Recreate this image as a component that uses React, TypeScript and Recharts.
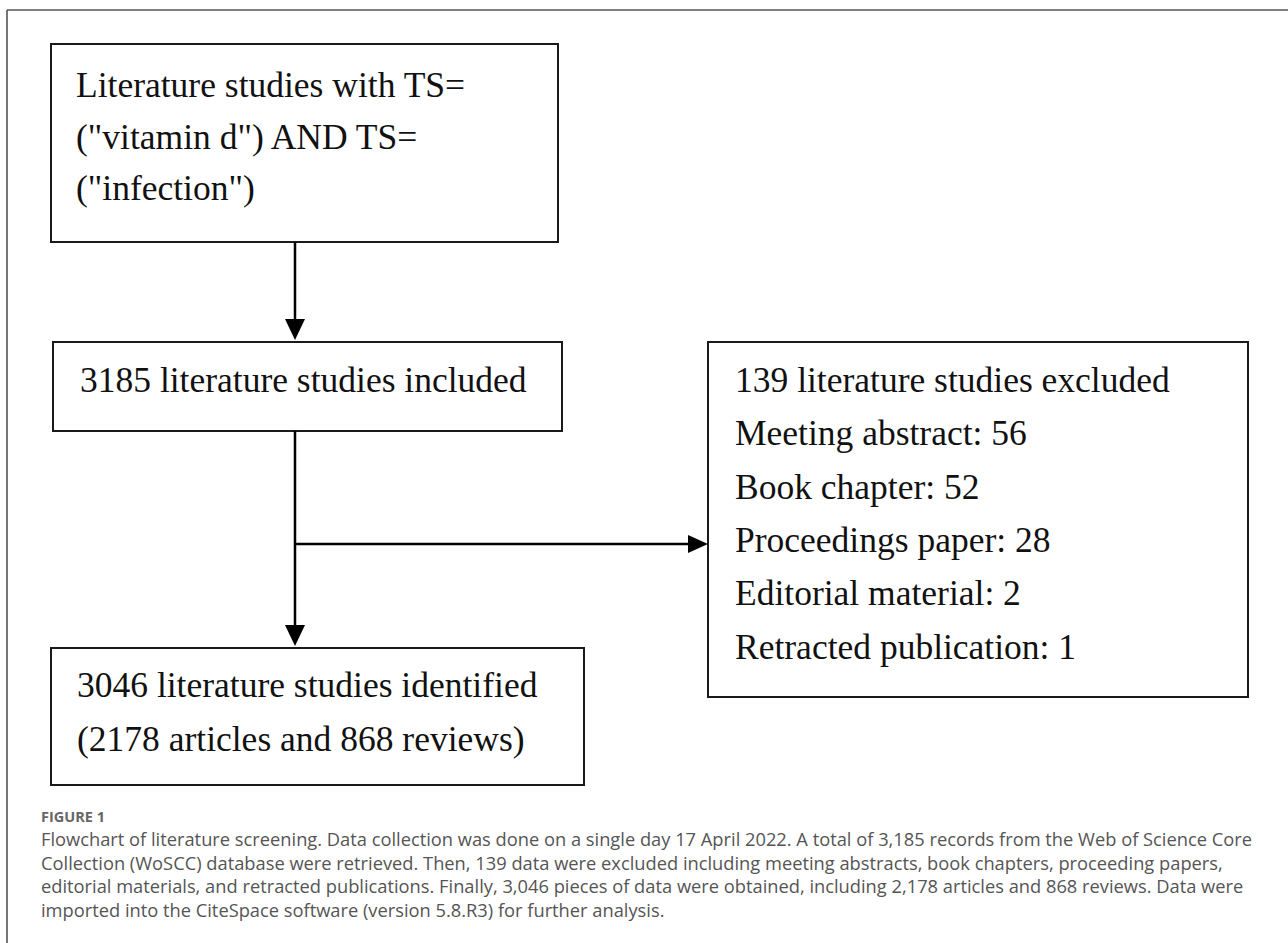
import React from "react";
import {
  ComposedChart,
  XAxis,
  YAxis,
  ReferenceArea,
  ReferenceLine,
  Scatter,
} from "recharts";

// flow values
const includedCount = 3185;
const excludedCount = 139;
const exclusionTypes = [
  "Meeting abstract",
  "Book chapter",
  "Proceedings paper",
  "Editorial material",
  "Retracted publication",
];
const exclusionCounts = [56, 52, 28, 2, 1];
const identifiedCount = 3046;
const articleCount = 2178;
const reviewCount = 868;
const searchLines = ['Literature studies with TS=', '("vitamin d") AND TS=', '("infection")'];

const captionTitle = "FIGURE 1";
const captionLines = [
  "Flowchart of literature screening. Data collection was done on a single day 17 April 2022. A total of 3,185 records from the Web of Science Core",
  "Collection (WoSCC) database were retrieved. Then, 139 data were excluded including meeting abstracts, book chapters, proceeding papers,",
  "editorial materials, and retracted publications. Finally, 3,046 pieces of data were obtained, including 2,178 articles and 868 reviews. Data were",
  "imported into the CiteSpace software (version 5.8.R3) for further analysis.",
];

const W = 1288;
const H = 943;

// layout of the boxes (page pixels, y grows down)
const boxes = [
  { x1: 51, x2: 558, y1: 44, y2: 242 },
  { x1: 53, x2: 562, y1: 342, y2: 431 },
  { x1: 708, x2: 1248, y1: 342, y2: 697 },
  { x1: 51, x2: 584, y1: 648, y2: 785 },
];

const boxText = [
  { lines: searchLines, x: 76, y0: 97, step: 51.5 },
  { lines: [`${includedCount} literature studies included`], x: 80, y0: 392, step: 0 },
  {
    lines: [
      `${excludedCount} literature studies excluded`,
      ...exclusionTypes.map((t, i) => `${t}: ${exclusionCounts[i]}`),
    ],
    x: 735,
    y0: 392,
    step: 53.3,
  },
  {
    lines: [
      `${identifiedCount} literature studies identified`,
      `(${articleCount} articles and ${reviewCount} reviews)`,
    ],
    x: 77,
    y0: 697,
    step: 54,
  },
];

const textPoints = boxText.flatMap((b) =>
  b.lines.map((text, i) => ({ x: b.x, y: b.y0 + i * b.step, text }))
);

const connectors = [
  { x1: 295, y1: 242, x2: 295, y2: 322 },
  { x1: 295, y1: 431, x2: 295, y2: 628 },
  { x1: 295, y1: 544, x2: 692, y2: 544 },
];

const arrowHeads = [
  { x: 295, y: 340, dir: "down" },
  { x: 295, y: 646, dir: "down" },
  { x: 708, y: 544, dir: "right" },
];

const TextShape = (props: any) => {
  const { cx, cy, payload } = props;
  return (
    <text
      x={cx}
      y={cy}
      fontFamily="'Liberation Serif', 'Times New Roman', serif"
      fontSize={35.5}
      fill="#111"
    >
      {payload.text}
    </text>
  );
};

const ArrowShape = (props: any) => {
  const { cx, cy, payload } = props;
  const pts =
    payload.dir === "down"
      ? `${cx},${cy} ${cx - 10},${cy - 21} ${cx + 10},${cy - 21}`
      : `${cx},${cy} ${cx - 20},${cy - 9} ${cx - 20},${cy + 9}`;
  return <polygon points={pts} fill="#000" />;
};

export default function App() {
  return (
    <div style={{ position: "absolute", left: 0, top: 0, width: W, height: H, background: "#fff" }}>
      <ComposedChart width={W} height={H} margin={{ top: 0, right: 0, bottom: 0, left: 0 }}>
        <XAxis type="number" dataKey="x" domain={[0, W]} hide allowDataOverflow />
        <YAxis type="number" dataKey="y" domain={[0, H]} reversed hide allowDataOverflow />

        {/* frame */}
        <ReferenceLine
          segment={[{ x: 7, y: 10 }, { x: W, y: 10 }]}
          stroke="#555"
          strokeWidth={1.6}
          ifOverflow="visible"
        />
        <ReferenceLine
          segment={[{ x: 7, y: 10 }, { x: 7, y: H }]}
          stroke="#555"
          strokeWidth={1.6}
          ifOverflow="visible"
        />

        {boxes.map((b, i) => (
          <ReferenceArea
            key={`box-${i}`}
            x1={b.x1}
            x2={b.x2}
            y1={b.y1}
            y2={b.y2}
            fill="none"
            stroke="#1a1a1a"
            strokeWidth={2}
            ifOverflow="visible"
          />
        ))}

        {connectors.map((c, i) => (
          <ReferenceLine
            key={`con-${i}`}
            segment={[{ x: c.x1, y: c.y1 }, { x: c.x2, y: c.y2 }]}
            stroke="#000"
            strokeWidth={2.5}
            ifOverflow="visible"
          />
        ))}

        <Scatter data={arrowHeads} shape={ArrowShape} isAnimationActive={false} />
        <Scatter data={textPoints} shape={TextShape} isAnimationActive={false} />
      </ComposedChart>

      <div
        style={{
          position: "absolute",
          left: 41,
          top: 808,
          fontFamily: "'Open Sans', sans-serif",
          fontWeight: 700,
          fontSize: 14.5,
          color: "#666",
          lineHeight: "18px",
        }}
      >
        {captionTitle}
      </div>
      {captionLines.map((line, i) => (
        <div
          key={i}
          style={{
            position: "absolute",
            left: 41,
            top: 827 + i * 23.7,
            fontFamily: "'Open Sans', sans-serif",
            fontSize: 18.3,
            color: "#555",
            lineHeight: "23.7px",
            whiteSpace: "nowrap",
          }}
        >
          {line}
        </div>
      ))}
    </div>
  );
}
